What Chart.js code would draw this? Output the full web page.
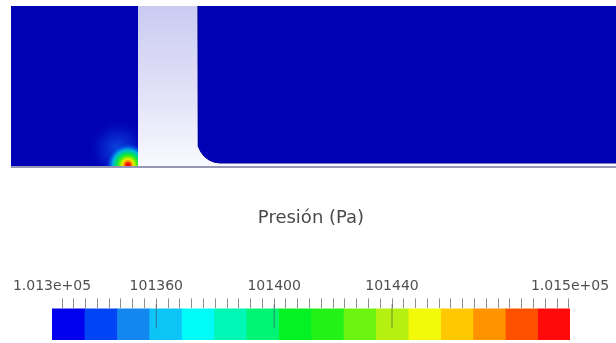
<!DOCTYPE html>
<html>
<head>
<meta charset="utf-8">
<title>Presión (Pa)</title>
<script src="https://cdn.jsdelivr.net/npm/chart.js@4.4.1/dist/chart.umd.min.js"></script>
<style>
  html, body { margin: 0; padding: 0; background: #fff; }
  body { width: 616px; height: 343px; position: relative; overflow: hidden; }
  #field { position: absolute; left: 11px; top: 6px; }
  #legend { position: absolute; left: 0; top: 200px; }
</style>
</head>
<body>
<canvas id="field" width="605" height="164"></canvas>
<canvas id="legend" width="616" height="143"></canvas>
<script>
// view extent of the slice (y measured up from the floor)
const viewX = [0, 605];
const viewY = [-3, 161];
const fluidTop = 161;

// blocks of the slice
const leftFluidX = [0, 127];
const wallX = [127, 605];   // lavender wall, only visible between/below the fluid blocks

// outline of the right fluid block, rounded corner next to the wall
const rightEdgeX = [187, 187, 187.8, 189.9, 193.4, 198, 203.3, 209, 605];
const rightEdgeY = [161, 26, 20.3, 15, 10.4, 7, 4.8, 4, 4];

// pressure peak at the foot of the wall (halo, core)
const peakX = [107, 117];
const peakY = [18, 2];
const peakR = [32, 23];

// colour legend
const pMin = 101324.6;
const pMax = 101500.4;
const bandColors = ['#0000ee', '#0044f6', '#1486f0', '#0cc4f6', '#00fcf8', '#00f6b4',
  '#00f474', '#04f224', '#22f218', '#6cf410', '#b4f010', '#f2fa0a',
  '#ffc800', '#ff9400', '#ff5000', '#ff0a0a'];
const labelValues = [101324.6, 101360, 101400, 101440, 101500.4];
const labelTexts = ['1.013e+05', '101360', '101400', '101440', '1.015e+05'];
const majorValues = [101360, 101400, 101440];
const minorStep = 4;

const fluidBlue = '#0000b4';

const pts = (xs, ys) => xs.map((x, i) => ({ x: x, y: ys[i] }));

function wallGradient(ctx) {
  const area = ctx.chart.chartArea;
  if (!area) return '#dcdcf4';
  const g = ctx.chart.ctx.createLinearGradient(0, area.top, 0, area.bottom);
  g.addColorStop(0, '#cbcbf2');
  g.addColorStop(0.55, '#e2e2f8');
  g.addColorStop(1, '#fbfbff');
  return g;
}

function peakGradient(stops) {
  return (ctx) => {
    const chart = ctx.chart;
    const raw = ctx.raw;
    const fallback = stops[stops.length - 1][1];
    if (!raw || !chart.chartArea || !chart.scales.x) return fallback;
    const px = chart.scales.x.getPixelForValue(raw.x);
    const py = chart.scales.y.getPixelForValue(raw.y);
    if (!isFinite(px) || !isFinite(py)) return fallback;
    const g = chart.ctx.createRadialGradient(px, py, 0, px, py, raw.r);
    stops.forEach(s => g.addColorStop(s[0], s[1]));
    return g;
  };
}

new Chart(document.getElementById('field'), {
  type: 'line',
  data: {
    datasets: [
      { // floor line
        data: pts(viewX, [0, 0]), borderColor: '#9696b6', borderWidth: 2,
        pointRadius: 0, fill: false, order: 0
      },
      { // below the floor
        data: pts(viewX, [0, 0]), borderWidth: 0, backgroundColor: '#ffffff',
        pointRadius: 0, fill: 'start', order: 1
      },
      { // right fluid block
        data: pts(rightEdgeX, rightEdgeY), borderColor: '#00009c', borderWidth: 1,
        backgroundColor: fluidBlue, pointRadius: 0, fill: 'end', order: 2
      },
      { // wall
        data: pts(wallX, [fluidTop, fluidTop]), borderWidth: 0,
        backgroundColor: wallGradient, pointRadius: 0, fill: 'origin', order: 3
      },
      { // pressure peak
        type: 'bubble', clip: 0, order: 4, borderWidth: 0,
        data: [{ x: peakX[1], y: peakY[1], r: peakR[1] }],
        backgroundColor: peakGradient([[0, '#c80000'], [0.09, '#ff2000'], [0.17, '#ff9000'],
          [0.25, '#eef000'], [0.36, '#60f000'], [0.5, '#00e060'], [0.66, '#00b4e0'],
          [0.83, 'rgba(0,80,230,0.6)'], [1, 'rgba(0,0,180,0)']])
      },
      { // halo around the peak
        type: 'bubble', clip: 0, order: 5, borderWidth: 0,
        data: [{ x: peakX[0], y: peakY[0], r: peakR[0] }],
        backgroundColor: peakGradient([[0, 'rgba(20,110,240,0.7)'], [0.5, 'rgba(10,60,220,0.45)'], [1, 'rgba(0,0,180,0)']])
      },
      { // left fluid block
        data: pts(leftFluidX, [fluidTop, fluidTop]), borderWidth: 0,
        backgroundColor: fluidBlue, pointRadius: 0, fill: 'origin', order: 6
      }
    ]
  },
  options: {
    responsive: false,
    animation: false,
    devicePixelRatio: 1,
    layout: { padding: 0, autoPadding: false },
    plugins: { legend: { display: false }, tooltip: { enabled: false } },
    elements: { line: { tension: 0 } },
    scales: {
      x: { type: 'linear', min: viewX[0], max: viewX[1], display: false },
      y: { type: 'linear', min: viewY[0], max: viewY[1], display: false }
    }
  }
});

// colour legend: one floating bar per colour band
const bandWidth = (pMax - pMin) / bandColors.length;
const bandSets = bandColors.map((c, i) => ({
  data: [[pMin + i * bandWidth, pMin + (i + 1) * bandWidth]],
  backgroundColor: c,
  borderWidth: 0,
  grouped: false,
  barPercentage: 1,
  categoryPercentage: 1,
  order: 2
}));

new Chart(document.getElementById('legend'), {
  type: 'bar',
  data: {
    labels: [''],
    datasets: [
      { // major ticks reaching into the colour bar
        type: 'scatter',
        indexAxis: 'x',
        yAxisID: 'yTick',
        data: majorValues.map(v => ({ x: v, y: 1 })),
        pointStyle: 'line',
        rotation: 90,
        pointRadius: 12,
        borderWidth: 1,
        borderColor: 'rgba(60,60,80,0.55)',
        clip: false,
        order: 0
      }
    ].concat(bandSets)
  },
  options: {
    indexAxis: 'y',
    responsive: false,
    animation: false,
    devicePixelRatio: 1,
    layout: { padding: { left: 52, right: 46, top: 0, bottom: 3 }, autoPadding: false },
    plugins: {
      legend: { display: false },
      tooltip: { enabled: false },
      title: {
        display: true,
        text: 'Presión (Pa)',
        color: '#4a4a4a',
        font: { family: 'DejaVu Sans', size: 18, weight: 'normal' },
        padding: { top: 8, bottom: 44 }
      }
    },
    scales: {
      x: {
        type: 'linear',
        position: 'top',
        offset: false,
        min: pMin,
        max: pMax,
        afterBuildTicks: (scale) => {
          const t = [pMin];
          for (let v = 101328; v <= 101500; v += minorStep) t.push(v);
          t.push(pMax);
          scale.ticks = t.map(v => ({ value: v }));
        },
        ticks: {
          autoSkip: false,
          maxRotation: 0,
          padding: 4,
          color: '#505050',
          font: { family: 'DejaVu Sans', size: 14 },
          callback: (value) => {
            const i = labelValues.findIndex(v => Math.abs(v - value) < 0.01);
            return i >= 0 ? labelTexts[i] : '';
          }
        },
        grid: {
          drawOnChartArea: false,
          offset: false,
          tickLength: 10,
          tickColor: (ctx) => (ctx.tick && (ctx.tick.value === pMin || ctx.tick.value === pMax))
            ? 'rgba(0,0,0,0)' : '#8c8c8c'
        },
        border: { display: false }
      },
      y: { type: 'category', display: false },
      yTick: { type: 'linear', min: 0, max: 1, display: false }
    }
  }
});
</script>
</body>
</html>
